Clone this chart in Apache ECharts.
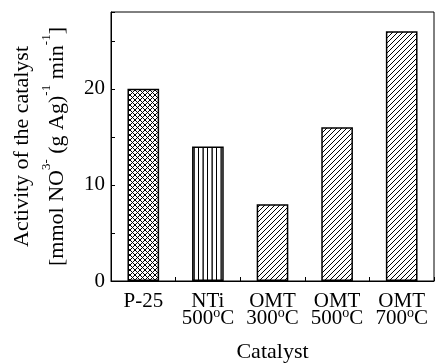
<!DOCTYPE html>
<html><head><meta charset="utf-8">
<script src="https://cdn.jsdelivr.net/npm/echarts@6/dist/echarts.min.js"></script>
<style>html,body{margin:0;padding:0;background:#fff}#c{width:436px;height:363px}</style>
</head><body><div id="c"></div>
<script>
const categories = ['P-25', 'NTi\n500°C', 'OMT\n300°C', 'OMT\n500°C', 'OMT\n700°C'];
const values = [20, 14, 8, 16, 26];
const patterns = ['cross', 'vertical', 'diag', 'diag', 'diag'];
const yTickLabels = ['0', '10', '20'];

function makePattern(kind) {
  const c = document.createElement('canvas');
  const ctx = c.getContext('2d');
  if (kind === 'vertical') {
    c.width = 9; c.height = 4;
    ctx.fillStyle = '#fff'; ctx.fillRect(0, 0, 9, 4);
    ctx.fillStyle = '#000';
    ctx.fillRect(0, 0, 1, 4);
    ctx.fillStyle = '#777';
    ctx.fillRect(4, 0, 1, 4);
    ctx.fillStyle = '#333';
    ctx.fillRect(5, 0, 1, 4);
  } else if (kind === 'diag') {
    const s = 5;
    c.width = s; c.height = s;
    ctx.fillStyle = '#fff'; ctx.fillRect(0, 0, s, s);
    ctx.strokeStyle = '#000'; ctx.lineWidth = 1;
    for (let k = -1; k <= 1; k++) {
      ctx.beginPath(); ctx.moveTo(k * s, s); ctx.lineTo(k * s + s, 0); ctx.stroke();
    }
  } else {
    const s = 5;
    c.width = s; c.height = s;
    ctx.fillStyle = '#fff'; ctx.fillRect(0, 0, s, s);
    ctx.strokeStyle = '#000'; ctx.lineWidth = 1;
    for (let k = -1; k <= 1; k++) {
      ctx.beginPath(); ctx.moveTo(k * s, s); ctx.lineTo(k * s + s, 0); ctx.stroke();
      ctx.beginPath(); ctx.moveTo(k * s, 0); ctx.lineTo(k * s + s, s); ctx.stroke();
    }
  }
  return { image: c, repeat: 'repeat' };
}

const font = 'Liberation Serif, Times New Roman, serif';
const chart = echarts.init(document.getElementById('c'), null, { renderer: 'canvas' });

function catLabel(v) {
  const parts = v.split('\n');
  if (parts.length === 1) return '{a|' + v + '}';
  const m = parts[1].match(/^(\d+)°C$/);
  return '{a|' + parts[0] + '}\n{a|' + m[1] + '}{s|o}{a|C}';
}

chart.setOption({
  animation: false,
  backgroundColor: '#fff',
  grid: { left: 111, right: 2, top: 12, bottom: 82, outerBoundsMode: 'none', containLabel: false, show: true, borderColor: '#000', borderWidth: 1, backgroundColor: 'transparent' },
  xAxis: {
    type: 'category',
    data: categories,
    name: 'Catalyst',
    nameLocation: 'middle',
    nameGap: 60,
    nameTextStyle: { fontFamily: font, fontSize: 22, color: '#000' },
    axisLine: { lineStyle: { color: '#000', width: 1 } },
    axisTick: { show: true, inside: true, length: 4, lineStyle: { color: '#000' } },
    axisLabel: {
      interval: 0, margin: 12, color: '#000',
      formatter: catLabel,
      rich: {
        a: { fontFamily: font, fontSize: 21, color: '#000', lineHeight: 17 },
        s: { fontFamily: font, fontSize: 14, color: '#000', verticalAlign: 'bottom', lineHeight: 17, padding: [0, 0, 7, 0] }
      }
    }
  },
  yAxis: {
    type: 'value',
    min: 0, max: 28, interval: 5,
    name: '{a|Activity of the catalyst}\n{a|[mmol NO}{s|3-}{a| (g Ag)}{s|-1}{a| min}{s|-1}{a|]}',
    nameLocation: 'middle',
    nameRotate: 90,
    nameGap: 36,
    nameTextStyle: {
      color: '#000',
      rich: {
        a: { fontFamily: font, fontSize: 22, color: '#000', lineHeight: 35 },
        s: { fontFamily: font, fontSize: 13, color: '#000', verticalAlign: 'top', lineHeight: 20 }
      }
    },
    axisLine: { show: true, lineStyle: { color: '#000', width: 1 } },
    axisTick: { show: true, inside: true, length: 4, lineStyle: { color: '#000' } },
    splitLine: { show: false },
    axisLabel: {
      fontFamily: font, fontSize: 21, color: '#000', margin: 6,
      formatter: function (v) { return yTickLabels.indexOf(String(v)) >= 0 ? String(v) : ''; }
    }
  },
  series: [{
    type: 'bar',
    barWidth: '49%',
    data: values.map((v, i) => ({
      value: v,
      itemStyle: { color: makePattern(patterns[i]), borderColor: '#000', borderWidth: 1.5 }
    }))
  }]
});
</script></body></html>
